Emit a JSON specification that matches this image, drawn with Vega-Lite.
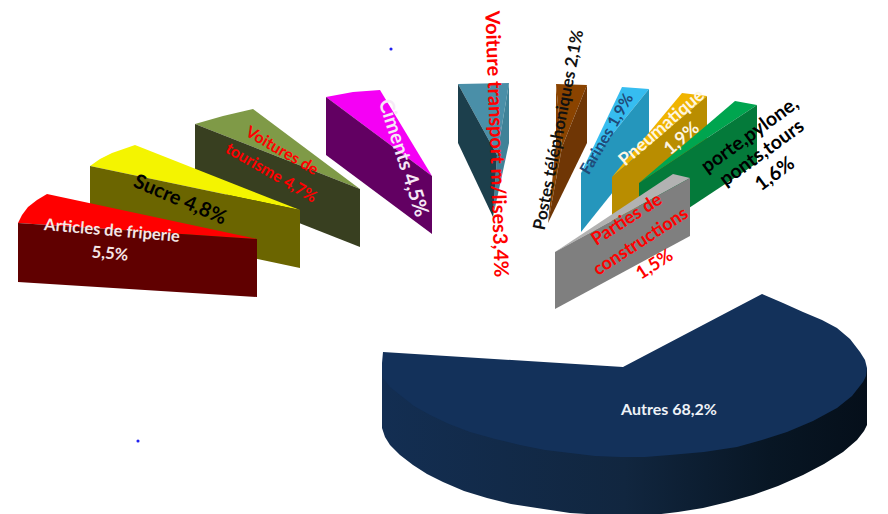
{"$schema":"https://vega.github.io/schema/vega-lite/v6.json","width":888,"height":514,"padding":0,"autosize":{"type":"none"},"background":"white","view":{"stroke":null},
"datasets":{"faces":[
{"part":"Ciments dessus","n":1,"x":326,"y":97},{"part":"Ciments dessus","n":2,"x":353,"y":92},{"part":"Ciments dessus","n":3,"x":380,"y":90},{"part":"Ciments dessus","n":4,"x":432,"y":176},
{"part":"Ciments côté","n":1,"x":326,"y":97},{"part":"Ciments côté","n":2,"x":432,"y":176},{"part":"Ciments côté","n":3,"x":432,"y":234},{"part":"Ciments côté","n":4,"x":326,"y":155},
{"part":"Voitures dessus","n":1,"x":195,"y":124},{"part":"Voitures dessus","n":2,"x":223,"y":116},{"part":"Voitures dessus","n":3,"x":253,"y":109},{"part":"Voitures dessus","n":4,"x":360,"y":189},
{"part":"Voitures côté","n":1,"x":195,"y":124},{"part":"Voitures côté","n":2,"x":360,"y":189},{"part":"Voitures côté","n":3,"x":360,"y":247},{"part":"Voitures côté","n":4,"x":195,"y":182},
{"part":"Sucre dessus","n":1,"x":90,"y":166},{"part":"Sucre dessus","n":2,"x":100,"y":159},{"part":"Sucre dessus","n":3,"x":112,"y":153},{"part":"Sucre dessus","n":4,"x":135,"y":145},{"part":"Sucre dessus","n":5,"x":300,"y":210},
{"part":"Sucre côté","n":1,"x":90,"y":166},{"part":"Sucre côté","n":2,"x":300,"y":210},{"part":"Sucre côté","n":3,"x":300,"y":268},{"part":"Sucre côté","n":4,"x":90,"y":223},
{"part":"Friperie dessus","n":1,"x":18,"y":223},{"part":"Friperie dessus","n":2,"x":22,"y":215},{"part":"Friperie dessus","n":3,"x":28,"y":207},{"part":"Friperie dessus","n":4,"x":37,"y":200},{"part":"Friperie dessus","n":5,"x":47,"y":194},{"part":"Friperie dessus","n":6,"x":257,"y":239},
{"part":"Friperie côté","n":1,"x":18,"y":223},{"part":"Friperie côté","n":2,"x":257,"y":239},{"part":"Friperie côté","n":3,"x":257,"y":297},{"part":"Friperie côté","n":4,"x":18,"y":282},
{"part":"Transport dessus","n":1,"x":458,"y":84},{"part":"Transport dessus","n":2,"x":509,"y":83},{"part":"Transport dessus","n":3,"x":497,"y":155},
{"part":"Transport droite","n":1,"x":509,"y":83},{"part":"Transport droite","n":2,"x":509,"y":143},{"part":"Transport droite","n":3,"x":493,"y":217},{"part":"Transport droite","n":4,"x":497,"y":155},
{"part":"Transport gauche","n":1,"x":458,"y":84},{"part":"Transport gauche","n":2,"x":497,"y":155},{"part":"Transport gauche","n":3,"x":493,"y":217},{"part":"Transport gauche","n":4,"x":458,"y":143},
{"part":"Postes dessus","n":1,"x":556,"y":84},{"part":"Postes dessus","n":2,"x":587,"y":85},{"part":"Postes dessus","n":3,"x":562,"y":147},
{"part":"Postes gauche","n":1,"x":556,"y":84},{"part":"Postes gauche","n":2,"x":562,"y":147},{"part":"Postes gauche","n":3,"x":548,"y":223},{"part":"Postes gauche","n":4,"x":556,"y":143},
{"part":"Postes droite","n":1,"x":587,"y":85},{"part":"Postes droite","n":2,"x":587,"y":143},{"part":"Postes droite","n":3,"x":548,"y":223},{"part":"Postes droite","n":4,"x":562,"y":147},
{"part":"Farines dessus","n":1,"x":581,"y":173},{"part":"Farines dessus","n":2,"x":622,"y":87},{"part":"Farines dessus","n":3,"x":649,"y":89},
{"part":"Farines côté","n":1,"x":581,"y":173},{"part":"Farines côté","n":2,"x":649,"y":89},{"part":"Farines côté","n":3,"x":649,"y":147},{"part":"Farines côté","n":4,"x":581,"y":232},
{"part":"Pneumatique dessus","n":1,"x":612,"y":177},{"part":"Pneumatique dessus","n":2,"x":682,"y":93},{"part":"Pneumatique dessus","n":3,"x":707,"y":96},
{"part":"Pneumatique côté","n":1,"x":612,"y":177},{"part":"Pneumatique côté","n":2,"x":707,"y":96},{"part":"Pneumatique côté","n":3,"x":707,"y":155},{"part":"Pneumatique côté","n":4,"x":612,"y":235},
{"part":"Porte dessus","n":1,"x":639,"y":183},{"part":"Porte dessus","n":2,"x":735,"y":101},{"part":"Porte dessus","n":3,"x":757,"y":105},
{"part":"Porte côté","n":1,"x":639,"y":183},{"part":"Porte côté","n":2,"x":757,"y":105},{"part":"Porte côté","n":3,"x":757,"y":163},{"part":"Porte côté","n":4,"x":639,"y":241},
{"part":"Parties dessus","n":1,"x":555,"y":252},{"part":"Parties dessus","n":2,"x":673,"y":174},{"part":"Parties dessus","n":3,"x":690,"y":178},
{"part":"Parties côté","n":1,"x":555,"y":252},{"part":"Parties côté","n":2,"x":690,"y":178},{"part":"Parties côté","n":3,"x":690,"y":236},{"part":"Parties côté","n":4,"x":555,"y":309},
{"part":"Autres dessus","n":1,"x":383,"y":352},{"part":"Autres dessus","n":2,"x":623,"y":367},{"part":"Autres dessus","n":3,"x":762,"y":294},{"part":"Autres dessus","n":4,"x":783,"y":303},{"part":"Autres dessus","n":5,"x":803,"y":312},{"part":"Autres dessus","n":6,"x":822,"y":320},{"part":"Autres dessus","n":7,"x":837,"y":328},{"part":"Autres dessus","n":8,"x":850,"y":339},{"part":"Autres dessus","n":9,"x":860,"y":352},{"part":"Autres dessus","n":10,"x":865,"y":360},{"part":"Autres dessus","n":11,"x":867,"y":368},{"part":"Autres dessus","n":12,"x":866,"y":376},{"part":"Autres dessus","n":13,"x":863,"y":382},{"part":"Autres dessus","n":14,"x":852,"y":396},{"part":"Autres dessus","n":15,"x":837,"y":408},{"part":"Autres dessus","n":16,"x":813,"y":421},{"part":"Autres dessus","n":17,"x":787,"y":432},{"part":"Autres dessus","n":18,"x":762,"y":440},{"part":"Autres dessus","n":19,"x":737,"y":447},{"part":"Autres dessus","n":20,"x":704,"y":452},{"part":"Autres dessus","n":21,"x":670,"y":455},{"part":"Autres dessus","n":22,"x":645,"y":457},{"part":"Autres dessus","n":23,"x":620,"y":457},{"part":"Autres dessus","n":24,"x":595,"y":456},{"part":"Autres dessus","n":25,"x":570,"y":453},{"part":"Autres dessus","n":26,"x":545,"y":450},{"part":"Autres dessus","n":27,"x":520,"y":445},{"part":"Autres dessus","n":28,"x":495,"y":439},{"part":"Autres dessus","n":29,"x":470,"y":432},{"part":"Autres dessus","n":30,"x":449,"y":424},{"part":"Autres dessus","n":31,"x":430,"y":415},{"part":"Autres dessus","n":32,"x":414,"y":406},{"part":"Autres dessus","n":33,"x":400,"y":395},{"part":"Autres dessus","n":34,"x":390,"y":387},{"part":"Autres dessus","n":35,"x":383,"y":378},{"part":"Autres dessus","n":36,"x":382,"y":370},{"part":"Autres dessus","n":37,"x":382,"y":363}
],
"autresCote":[
{"n":1,"x":382,"y":363},{"n":2,"x":382,"y":428},{"n":3,"x":385,"y":437},{"n":4,"x":390,"y":445},{"n":5,"x":400,"y":455},{"n":6,"x":413,"y":465},{"n":7,"x":427,"y":474},{"n":8,"x":443,"y":482},{"n":9,"x":464,"y":491},{"n":10,"x":487,"y":498},{"n":11,"x":511,"y":504},{"n":12,"x":537,"y":508},{"n":13,"x":570,"y":513},{"n":14,"x":603,"y":515},{"n":15,"x":628,"y":516},{"n":16,"x":653,"y":515},{"n":17,"x":678,"y":512},{"n":18,"x":703,"y":508},{"n":19,"x":728,"y":502},{"n":20,"x":753,"y":495},{"n":21,"x":778,"y":486},{"n":22,"x":803,"y":475},{"n":23,"x":824,"y":464},{"n":24,"x":843,"y":452},{"n":25,"x":857,"y":440},{"n":26,"x":864,"y":431},{"n":27,"x":867,"y":425},{"n":28,"x":867,"y":368},{"n":29,"x":620,"y":400}
]},
"encoding":{"x":{"field":"x","type":"quantitative","scale":{"domain":[0,888],"nice":false,"zero":false},"axis":null},"y":{"field":"y","type":"quantitative","scale":{"domain":[514,0],"nice":false,"zero":false},"axis":null}},
"layer":[
{"data":{"name":"autresCote"},"mark":{"type":"line","stroke":null,"fill":{"gradient":"linear","x1":0,"x2":1,"y1":0,"y2":0,"stops":[{"offset":0,"color":"#132e52"},{"offset":0.5,"color":"#11263f"},{"offset":0.8,"color":"#081624"},{"offset":1,"color":"#050f1a"}]}},"encoding":{"order":{"field":"n","type":"quantitative"}}},
{"data":{"name":"faces"},"mark":{"type":"line","strokeWidth":0},"encoding":{"fill":{"field":"part","type":"nominal","legend":null,"scale":{"domain":["Ciments dessus","Ciments côté","Voitures dessus","Voitures côté","Sucre dessus","Sucre côté","Friperie dessus","Friperie côté","Transport dessus","Transport droite","Transport gauche","Postes dessus","Postes gauche","Postes droite","Farines dessus","Farines côté","Pneumatique dessus","Pneumatique côté","Porte dessus","Porte côté","Parties dessus","Parties côté","Autres dessus"],"range":["#f500f5","#620062","#7f9a47","#383f20","#f4f400","#6b6500","#ff0000","#600000","#4a8fa8","#3f8298","#1c3f4c","#8a4300","#8a4300","#6f3605","#36bdf0","#2596bc","#f0b400","#b98d00","#00a54f","#047a3a","#b2b2b2","#7f7f7f","#13315a"]}},"detail":{"field":"part"},"order":{"field":"n","type":"quantitative"}}},
{"data":{"values":[{"x":391,"y":49},{"x":138,"y":441}]},"mark":{"type":"point","filled":true,"color":"#2020f0","size":10,"opacity":1}},
{"data":{"values":[{"t":"Articles de friperie","x":112,"y":231},{"t":"5,5%","x":110,"y":254}]},"mark":{"type":"text","font":"Lato","fontWeight":"bold","fontSize":16.5,"color":"#f5e6e6","angle":5},"encoding":{"text":{"field":"t"}}},
{"data":{"values":[{"t":"Sucre  4,8%","x":180,"y":200}]},"mark":{"type":"text","font":"Lato","fontWeight":"bold","fontSize":20,"color":"#000000","angle":23},"encoding":{"text":{"field":"t"}}},
{"data":{"values":[{"t":"Voitures de","x":282,"y":151},{"t":"tourisme  4,7%","x":271,"y":173}]},"mark":{"type":"text","font":"Lato","fontWeight":"bold","fontSize":16,"color":"#ff0000","angle":30},"encoding":{"text":{"field":"t"}}},
{"data":{"values":[{"t":"Ciments  4,5%","x":403,"y":158}]},"mark":{"type":"text","font":"Lato","fontWeight":"bold","fontSize":20,"color":"#f6e8f6","angle":72},"encoding":{"text":{"field":"t"}}},
{"data":{"values":[{"t":"Voiture transport m/lises3,4%","x":496,"y":144}]},"mark":{"type":"text","font":"Lato","fontWeight":"bold","fontSize":20,"color":"#ff0000","angle":88},"encoding":{"text":{"field":"t"}}},
{"data":{"values":[{"t":"Postes téléphoniques  2,1%","x":559,"y":130}]},"mark":{"type":"text","font":"Lato","fontWeight":"bold","fontSize":17,"color":"#111111","angle":-79},"encoding":{"text":{"field":"t"}}},
{"data":{"values":[{"t":"Farines 1,9%","x":607,"y":134}]},"mark":{"type":"text","font":"Lato","fontWeight":"bold","fontSize":16,"color":"#1f4a78","angle":-60},"encoding":{"text":{"field":"t"}}},
{"data":{"values":[{"t":"Pneumatique","x":662,"y":128},{"t":"1,9%","x":682,"y":139}]},"mark":{"type":"text","font":"Lato","fontWeight":"bold","fontSize":18,"color":"#fdf6e3","angle":-41},"encoding":{"text":{"field":"t"}}},
{"data":{"values":[{"t":"porte,pylone,","x":750,"y":135},{"t":"ponts,tours","x":762,"y":153},{"t":"1,6%","x":775,"y":174}]},"mark":{"type":"text","font":"Lato","fontWeight":"bold","fontSize":19.5,"color":"#000000","angle":-36},"encoding":{"text":{"field":"t"}}},
{"data":{"values":[{"t":"Parties de","x":627,"y":220},{"t":"constructions","x":641,"y":242},{"t":"1,5%","x":655,"y":265}]},"mark":{"type":"text","font":"Lato","fontWeight":"bold","fontSize":18,"color":"#ff0000","angle":-33},"encoding":{"text":{"field":"t"}}},
{"data":{"values":[{"t":"Autres 68,2%","x":669,"y":410}]},"mark":{"type":"text","font":"Lato","fontWeight":"bold","fontSize":16,"color":"#eef2f7"},"encoding":{"text":{"field":"t"}}}
]}
